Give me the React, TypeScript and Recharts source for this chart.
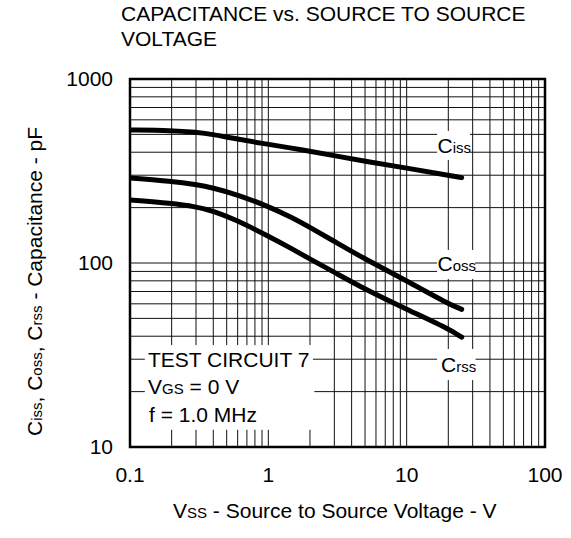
import React from 'react';
import { LineChart, Line, XAxis, YAxis, ReferenceLine, ReferenceArea } from 'recharts';

// source-to-source voltage (V) and capacitances (pF)
const voltage = [0.1, 0.2, 0.3, 0.4, 0.6, 1, 1.5, 2, 3, 5, 10, 20, 25];
const ciss = [528, 525, 514, 500, 470, 442, 420, 405, 383, 357, 328, 300, 291];
const coss = [290, 278, 267, 256, 235, 203, 176, 156, 131, 105, 80, 60, 56];
const crss = [220, 211, 202, 192, 170, 140, 119, 105, 89, 72, 56, 44, 39.5];

const xTicks = [0.1, 1, 10, 100];
const yTicks = [10, 100, 1000];
const mantissas = [1, 2, 3, 4, 5, 6, 7, 8, 9];
const xDecades = [0.1, 1, 10];
const yDecades = [10, 100];

// areas where grid lines are left out (text boxes), in data units
const masks = [
  { x: [0.1, 2.3], y: [12.4, 35.8], v: true, h: false },
  { x: [0.128, 2.1], y: [26.9, 33.7], v: false, h: true },
  { x: [0.128, 2.15], y: [18, 22.5], v: false, h: true },
  { x: [16.6, 28.7], y: [363, 522], v: true, h: true },
  { x: [16.6, 31.2], y: [81.8, 117.7], v: true, h: true },
  { x: [16.6, 31.5], y: [23.1, 34.1], v: true, h: true },
];

const rows = voltage.map((v, i) => ({ v, ciss: ciss[i], coss: coss[i], crss: crss[i] }));

const xGrid = xDecades.flatMap((d) => mantissas.map((m) => d * m)).slice(1);
const yGrid = yDecades.flatMap((d) => mantissas.map((m) => d * m)).slice(1);

const FONT = '"Liberation Sans", Arial, sans-serif';

function cut(at: number, lo: number, hi: number, dir: 'v' | 'h') {
  let segs: number[][] = [[lo, hi]];
  masks.forEach((m) => {
    if (dir === 'v' ? !m.v : !m.h) return;
    const across = dir === 'v' ? m.x : m.y;
    const along = dir === 'v' ? m.y : m.x;
    if (at <= across[0] || at >= across[1]) return;
    segs = segs.flatMap(([a, b]) => {
      const out: number[][] = [];
      if (along[0] > a) out.push([a, Math.min(b, along[0])]);
      if (along[1] < b) out.push([Math.max(a, along[1]), b]);
      return out.filter(([p, q]) => q > p);
    });
  });
  return segs;
}

export default function App() {
  const gridLines: React.ReactNode[] = [];
  xGrid.forEach((x) => {
    cut(x, 10, 1000, 'v').forEach(([a, b], j) => {
      gridLines.push(
        <ReferenceLine
          key={`v-${x}-${j}`}
          segment={[{ x, y: a }, { x, y: b }]}
          stroke="#111"
          strokeWidth={1}
          ifOverflow="visible"
        />
      );
    });
  });
  yGrid.forEach((y) => {
    cut(y, 0.1, 100, 'h').forEach(([a, b], j) => {
      gridLines.push(
        <ReferenceLine
          key={`h-${y}-${j}`}
          segment={[{ x: a, y }, { x: b, y }]}
          stroke="#111"
          strokeWidth={1}
          ifOverflow="visible"
        />
      );
    });
  });

  const tick = { fill: '#000', fontSize: 21, fontFamily: FONT };

  return (
    <div style={{ position: 'absolute', left: 0, top: 0, width: 571, height: 538, background: '#fff' }}>
      <LineChart width={571} height={538} data={rows} margin={{ top: 79, right: 26, bottom: 51, left: 70 }}>
        <XAxis
          dataKey="v"
          type="number"
          scale="log"
          domain={[0.1, 100]}
          allowDataOverflow
          ticks={xTicks}
          height={40}
          axisLine={false}
          tickLine={false}
          tickSize={0}
          tickMargin={20}
          tick={tick}
        />
        <YAxis
          type="number"
          scale="log"
          domain={[10, 1000]}
          allowDataOverflow
          ticks={yTicks}
          width={60}
          axisLine={false}
          tickLine={false}
          tickSize={0}
          tickMargin={17}
          tick={tick}
        />
        {gridLines}
        <ReferenceArea x1={0.1} x2={100} y1={10} y2={1000} fill="none" fillOpacity={0} stroke="#000" strokeWidth={2.5} ifOverflow="visible" />
        <Line dataKey="ciss" type="basis" stroke="#000" strokeWidth={5} strokeLinecap="round" dot={false} isAnimationActive={false} />
        <Line dataKey="coss" type="basis" stroke="#000" strokeWidth={5} strokeLinecap="round" dot={false} isAnimationActive={false} />
        <Line dataKey="crss" type="basis" stroke="#000" strokeWidth={5} strokeLinecap="round" dot={false} isAnimationActive={false} />
      </LineChart>

      <svg width={571} height={538} style={{ position: 'absolute', left: 0, top: 0, pointerEvents: 'none' }}>
        <g fontFamily={FONT} fontSize={21} fill="#000">
          <text x={121} y={21}>CAPACITANCE vs. SOURCE TO SOURCE</text>
          <text x={121} y={46}>VOLTAGE</text>

          <text x={148} y={367}>TEST CIRCUIT 7</text>
          <text x={148} y={394}>
            V<tspan fontSize={15}>GS</tspan> = 0 V
          </text>
          <text x={149} y={421.5}>f = 1.0 MHz</text>

          <text x={437.5} y={153}>
            C<tspan fontSize={15}>iss</tspan>
          </text>
          <text x={437.5} y={271}>
            C<tspan fontSize={15}>oss</tspan>
          </text>
          <text x={441} y={372}>
            C<tspan fontSize={15}>rss</tspan>
          </text>

          <text x={173} y={518}>
            V<tspan fontSize={15}>SS</tspan> - Source to Source Voltage - V
          </text>

          <text x={42} y={436} transform="rotate(-90 42 436)">
            C<tspan fontSize={15}>iss</tspan>, C<tspan fontSize={15}>oss</tspan>, C<tspan fontSize={15}>rss</tspan> - Capacitance - pF
          </text>
        </g>
      </svg>
    </div>
  );
}
